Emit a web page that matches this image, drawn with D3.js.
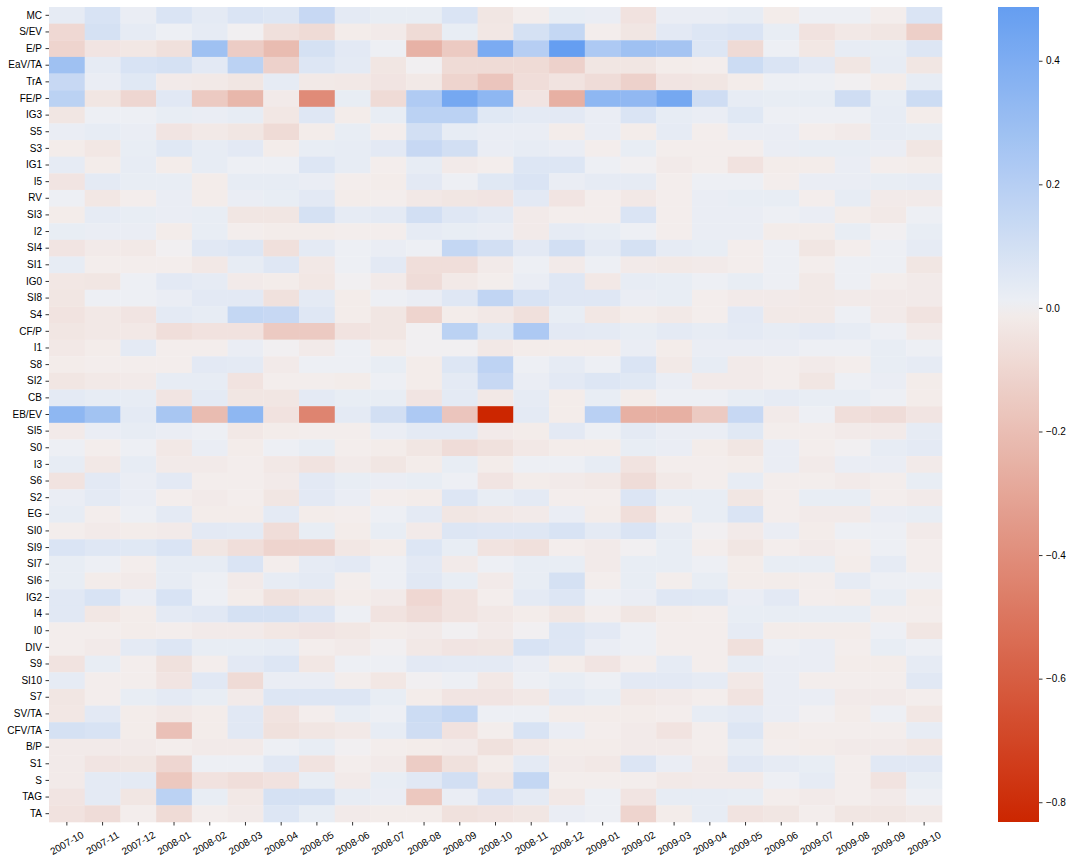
<!DOCTYPE html>
<html>
<head>
<meta charset="utf-8">
<script src="https://cdn.jsdelivr.net/npm/d3@7"></script>
<style>
  body { margin: 0; background: #fff; }
  svg { display: block; font-family: "DejaVu Sans", sans-serif; }
  .tick text { font-size: 10px; fill: #000; }
  .tick line { stroke: #000; stroke-width: 0.8; }
</style>
</head>
<body>
<svg id="chart" width="1077" height="866"></svg>
<script>
// --- data: columns (months), rows (factors), one row of values per factor ---
const months = ["2007-10","2007-11","2007-12","2008-01","2008-02","2008-03","2008-04","2008-05","2008-06",
  "2008-07","2008-08","2008-09","2008-10","2008-11","2008-12","2009-01","2009-02",
  "2009-03","2009-04","2009-05","2009-06","2009-07","2009-08","2009-09","2009-10"];

const factors = ["MC","S/EV","E/P","EaV/TA","TrA","FE/P","IG3","S5","S3","IG1","I5","RV","SI3","I2","SI4","SI1","IG0",
  "SI8","S4","CF/P","I1","S8","SI2","CB","EB/EV","SI5","S0","I3","S6","S2","EG","SI0","SI9",
  "SI7","SI6","IG2","I4","I0","DIV","S9","SI10","S7","SV/TA","CFV/TA","B/P","S1","S","TAG","TA"];

const corr = [
  [0.03,0.08,0.015,0.07,0.035,0.07,0.06,0.14,0.035, 0.02,0.02,0.07,-0.035,-0.005,0.02,0.015,-0.05, 0.015,0.015,0.025,-0.01,0.005,0.005,-0.005,0.07],
  [-0.09,0.09,0.03,0.005,0.03,0,-0.06,-0.08,-0.01, -0.015,-0.08,0.02,-0.03,0.09,0.15,-0.005,-0.035, 0.04,0.06,0.07,0.02,-0.05,-0.025,-0.035,-0.13],
  [-0.11,-0.04,-0.03,-0.06,0.28,-0.14,-0.21,0.09,0.04, 0.005,-0.25,-0.15,0.41,0.2,0.487,0.23,0.28, 0.26,0.06,-0.085,0.005,-0.03,0.025,0.02,0.06],
  [0.28,0.03,0.08,0.09,0.04,0.18,-0.12,0.06,0.035, -0.035,0,-0.08,-0.08,-0.08,-0.12,-0.035,-0.035, -0.01,-0.005,0.12,0.07,0.04,-0.035,0.025,-0.035],
  [0.14,0.015,0.05,-0.015,-0.02,-0.035,0.03,-0.02,-0.025, -0.04,-0.02,-0.11,-0.17,-0.07,-0.045,-0.075,-0.12, -0.04,-0.035,-0.01,0.005,0.005,0,-0.01,0.025],
  [0.18,-0.035,-0.1,0.045,-0.15,-0.23,-0.015,-0.41,0.02, -0.08,0.22,0.43,0.34,-0.04,-0.26,0.34,0.33, 0.43,0.11,0.025,0.02,0.02,0.11,0.02,0.12],
  [-0.035,0.005,0.005,0.02,0.015,0.025,-0.03,0.055,-0.01, 0.02,0.18,0.18,0.05,0.035,0.04,0.015,0.07, 0.025,0.015,0.05,0.005,0.005,0.005,0.025,-0.01],
  [0.015,0.025,0.015,-0.04,-0.02,-0.035,-0.08,-0.01,0.02, -0.005,0.1,0.025,0.015,0.015,-0.01,0.015,-0.01, 0.03,-0.005,0.015,0.015,-0.005,-0.015,0.025,0.02],
  [-0.01,-0.03,0.02,0.05,0.025,0.04,-0.01,0.02,0.025, 0.04,0.14,0.1,0.015,0.025,0.015,-0.005,0.02, -0.005,-0.005,-0.005,0.015,0.02,0.02,0.015,-0.035],
  [0.03,-0.01,0.025,-0.01,0.025,0.005,0.005,0.06,0.025, -0.005,0.025,-0.015,-0.005,0.06,0.06,0.005,0, -0.015,-0.005,-0.05,-0.01,-0.01,0.015,-0.005,-0.01],
  [-0.04,0.035,0.02,0.02,-0.01,0.025,0.025,0.015,-0.005, -0.01,0.04,0.005,0.05,0.07,0.015,0.03,0.03, -0.005,0.005,0.005,-0.005,0.015,0.015,0.02,0.025],
  [0.005,-0.03,-0.005,0.015,-0.01,0.015,0.02,0.04,-0.01, -0.005,-0.025,-0.035,-0.04,0.04,-0.04,-0.005,-0.025, -0.005,0.015,0.02,0.02,-0.005,0.025,-0.015,-0.015],
  [-0.01,0.03,0.02,0.015,0.02,-0.035,-0.035,0.09,0.03, 0.035,0.1,0.055,0.035,-0.015,-0.005,-0.005,0.07, -0.005,0.015,0.015,0.005,0.015,-0.01,-0.02,0.005],
  [0.02,0.015,0.015,-0.01,0.02,-0.005,-0.01,-0.01,-0.005, -0.005,0.03,0.02,0.015,-0.015,0.03,0.02,0.005, -0.005,0.015,0.015,-0.01,-0.01,0.02,0,0.02],
  [-0.04,-0.015,-0.02,0,0.045,0.06,-0.06,0.035,0.005, 0.015,0.005,0.15,0.1,0.04,0.1,0.035,0.09, 0.03,0.02,-0.005,0.005,-0.035,-0.005,0.005,0.03],
  [0.025,-0.005,-0.005,-0.005,-0.025,0.025,0.055,-0.025,0.005, 0.04,-0.065,-0.065,-0.015,0.005,-0.015,0.005,-0.015, -0.02,-0.015,-0.005,0.005,-0.005,0.005,0.005,-0.035],
  [-0.03,-0.035,0.005,0.04,0.03,-0.015,-0.01,-0.03,0, -0.015,-0.075,-0.02,-0.005,0.015,0.055,-0.025,0.025, 0.02,0.005,0.02,0.005,-0.02,0.005,-0.005,-0.015],
  [-0.035,0.005,0.005,0.015,0.04,0.04,-0.055,0.035,-0.01, 0.005,0.015,0.055,0.16,0.08,0.055,0.055,0.015, 0.02,-0.005,-0.015,-0.015,-0.02,-0.015,-0.015,-0.015],
  [-0.045,-0.025,-0.04,0.035,0.025,0.15,0.14,0.055,-0.01, -0.035,-0.11,-0.01,-0.025,-0.06,0.02,-0.03,-0.01, -0.02,-0.005,0.04,-0.02,-0.02,0.005,-0.015,-0.045],
  [-0.035,-0.025,-0.025,-0.065,-0.05,-0.05,-0.15,-0.15,-0.045, -0.035,0,0.18,0.05,0.23,0.04,0.035,0.02, 0.035,0.025,0.035,0.025,0.035,0.025,0.005,-0.015],
  [-0.025,-0.01,0.035,-0.005,-0.005,0.015,0,-0.015,0.005, -0.01,0,0,-0.025,-0.01,-0.01,-0.01,0.015, -0.01,0.015,0.015,0.015,0.005,0.005,0.02,0.005],
  [-0.01,-0.005,-0.005,-0.005,0.04,0.035,-0.015,0.005,0.005, 0.02,-0.01,0.06,0.17,0.005,0.03,0.005,0.07, -0.02,0.025,-0.015,-0.005,-0.015,-0.005,0.02,0.03],
  [-0.035,-0.02,-0.015,0.025,0.025,-0.045,-0.005,-0.005,-0.01, 0.005,-0.01,0.035,0.14,0.015,0.04,0.06,0.05, 0.015,-0.015,-0.015,-0.005,-0.035,0.005,0.015,-0.01],
  [0.035,0.025,0.025,-0.04,0.035,-0.035,-0.035,0.035,0.02, 0.02,-0.04,0.035,-0.025,0.03,-0.01,0.02,-0.01, 0.005,0.005,0.02,0.03,0.02,0.02,0.005,-0.01],
  [0.34,0.27,0.035,0.25,-0.21,0.34,-0.05,-0.44,0.035, 0.1,0.23,-0.17,-0.832,0.035,-0.01,0.19,-0.26, -0.26,-0.15,0.14,-0.015,0.005,-0.065,-0.075,-0.04],
  [-0.015,0.015,0.025,0.015,0.005,-0.025,-0.01,-0.005,-0.005, 0.015,0.035,0.035,-0.015,-0.01,0.04,0.005,0.035, 0.015,0.015,0.05,-0.005,-0.005,-0.015,-0.015,0.03],
  [0.005,-0.005,0.005,-0.025,0.015,-0.01,0.005,0.02,-0.005, -0.01,-0.035,-0.075,-0.055,-0.025,-0.01,-0.01,0.02, 0.015,-0.01,-0.035,0.015,-0.005,0,0.025,0.035],
  [0.025,-0.025,0.025,-0.015,-0.015,-0.005,-0.025,-0.045,-0.015, -0.035,-0.01,0.02,-0.01,0.005,0.005,0.025,-0.045, -0.005,-0.005,-0.01,0.015,-0.015,0.015,0.015,-0.015],
  [-0.045,0.04,0.015,0.04,-0.005,-0.005,-0.015,0.04,0.02, 0.015,0.02,0.005,-0.04,-0.01,-0.015,-0.025,-0.075, -0.02,-0.005,0.025,-0.005,-0.005,-0.015,-0.005,0.02],
  [0.015,0.035,0.015,-0.005,-0.015,-0.005,-0.035,0.04,0.015, -0.005,-0.01,0.06,0.02,0.035,-0.005,-0.005,0.065, 0.02,0.02,-0.035,-0.005,0.02,0.02,-0.005,-0.015],
  [0.025,-0.005,0.005,0.035,-0.01,-0.01,0.035,-0.01,-0.005, 0.005,0.035,-0.035,-0.025,-0.015,0.015,-0.01,-0.065, -0.005,0.02,0.07,-0.005,-0.015,-0.015,0.015,0.02],
  [-0.005,-0.015,-0.01,-0.015,0.04,0.035,-0.07,0.02,-0.01, 0.02,-0.015,0.06,0.055,0.055,0.08,0.035,0.07, 0.025,0,-0.015,0.015,-0.01,0.005,0.005,-0.015],
  [0.07,0.055,0.05,0.07,-0.035,-0.065,-0.11,-0.11,-0.03, -0.01,0.06,0.02,-0.045,-0.06,-0.005,-0.015,0, 0.02,-0.005,-0.035,-0.005,-0.015,-0.005,0.005,-0.005],
  [0.02,0.005,-0.005,0.025,0.025,0.07,-0.005,0.03,0.04, 0.005,0.04,-0.015,0.005,0.02,0.02,-0.015,0.02, 0.02,0.005,-0.01,0.02,0.02,-0.01,0.03,-0.005],
  [0.02,-0.01,-0.015,0.025,0.005,-0.015,0.025,0.035,-0.005, 0.005,0.045,0.02,-0.015,0.02,0.09,-0.005,0.02, -0.005,0.02,-0.01,-0.01,-0.005,0.03,0.005,0.005],
  [0.045,0.08,0.015,0.08,0.005,-0.01,-0.055,-0.035,-0.01, -0.015,-0.095,-0.045,-0.005,0.035,0.06,0.005,0.015, 0.055,0.05,0.015,0.04,-0.005,-0.01,0.02,-0.01],
  [0.045,-0.03,-0.01,0.035,0.045,0.09,0.09,0.065,0.005, -0.045,-0.075,-0.045,-0.025,-0.01,-0.035,-0.005,-0.035, -0.01,-0.005,0.02,0.02,0.02,0.02,-0.005,-0.005],
  [-0.005,-0.005,-0.01,-0.005,-0.015,-0.015,-0.03,-0.04,-0.03, -0.01,-0.015,0,-0.015,0,0.06,0.04,0.005, -0.005,-0.005,0.03,-0.01,-0.01,-0.01,0.005,-0.035],
  [-0.005,-0.015,0.035,0.06,0.02,0.02,0.025,-0.005,-0.015, 0,-0.025,-0.04,-0.035,0.08,0.06,0.015,0.005, -0.005,-0.005,-0.06,0.005,0.015,-0.005,0.02,0.005],
  [-0.045,0.02,-0.005,-0.055,-0.005,0.04,0.06,-0.03,0.005, 0.005,0.04,0.035,0.035,0.015,-0.01,-0.04,-0.005, 0.03,-0.005,0.025,0.015,0.015,-0.01,-0.01,0.03],
  [0.03,-0.005,-0.005,-0.04,0.045,-0.08,0.015,0.015,-0.005, -0.03,0,0.005,-0.025,0.005,0.02,0.005,0.04, 0.04,0.03,-0.025,0.015,-0.005,-0.005,-0.005,0.045],
  [-0.035,-0.005,0.02,0.035,0.02,-0.015,0.06,0.06,0.06, 0.02,-0.01,-0.04,-0.04,-0.025,0.035,0.02,-0.025, -0.015,-0.005,-0.045,0.015,0.015,-0.015,-0.015,-0.005],
  [-0.03,0.04,-0.01,-0.025,-0.01,0.045,-0.045,-0.005,0.02, 0.005,0.12,0.15,0.005,0.005,-0.01,-0.01,-0.01, -0.005,0.025,0.035,0.015,0,-0.01,0.005,-0.03],
  [0.09,0.08,-0.01,-0.19,-0.01,0.045,-0.055,-0.035,-0.02, 0.025,0.11,-0.05,-0.005,0.08,0.015,-0.005,-0.015, -0.045,-0.005,0.06,-0.01,-0.005,-0.005,-0.005,0.025],
  [-0.015,-0.015,-0.015,-0.005,-0.015,-0.015,0.005,0.02,0, -0.005,-0.01,-0.015,-0.055,-0.025,-0.01,-0.01,-0.015, -0.015,-0.005,0.025,-0.005,-0.01,-0.015,-0.015,-0.03],
  [-0.015,-0.04,-0.035,-0.1,0.005,0.005,0.045,-0.045,-0.005, -0.015,-0.14,-0.055,-0.01,0.035,-0.015,-0.025,0.065, 0.015,-0.015,0.045,0.03,0.02,-0.005,0.045,0.045],
  [-0.015,0.035,0.035,-0.16,-0.05,-0.065,-0.05,0.02,-0.015, 0.02,0.045,0.1,-0.035,0.15,-0.005,-0.005,-0.005, -0.02,-0.015,-0.015,0.005,0.03,-0.005,-0.045,0.02],
  [-0.04,0.035,-0.035,0.18,0.02,-0.025,0.09,0.09,0.025, 0.015,-0.16,0.015,0.075,0.035,-0.025,0.005,-0.04, 0.025,0.025,0.02,-0.005,-0.015,-0.005,-0.015,0.005],
  [-0.05,-0.075,-0.005,-0.08,-0.005,-0.015,0.06,0.02,-0.015, -0.01,-0.01,-0.055,-0.045,-0.035,0.015,0.005,-0.11, -0.01,0.025,-0.045,-0.035,-0.005,-0.035,-0.035,-0.02]
];

const cbarTicks = [0.4, 0.2, 0.0, -0.2, -0.4, -0.6, -0.8];

// --- layout ---
const svg = d3.select("#chart");
const plot = { left: 49, right: 942, top: 7, bottom: 822 };
const cbar = { left: 998, right: 1039 };

const x = d3.scaleBand().domain(months).range([plot.left, plot.right]);
const y = d3.scaleBand().domain(factors).range([plot.top, plot.bottom]);

// diverging colormap centred on 0 (seaborn style: range symmetric, cut to data)
const allVals = corr.flat();
const vmin = d3.min(allVals), vmax = d3.max(allVals);
const vr = Math.max(-vmin, vmax);
const color = d3.scaleLinear()
  .domain([-vr, -1e-6, 1e-6, vr])
  .range(["#cc2600", "#f3eeed", "#eef0f4", "#0464ef"])
  .interpolate(d3.interpolateRgb);

// cells
const cells = [];
corr.forEach((row, i) => row.forEach((v, j) => cells.push({ f: factors[i], m: months[j], v })));

svg.append("g")
  .selectAll("rect")
  .data(cells)
  .join("rect")
  .attr("x", (d) => x(d.m))
  .attr("y", (d) => y(d.f))
  .attr("width", x.bandwidth() + 0.3)
  .attr("height", y.bandwidth() + 0.3)
  .attr("fill", (d) => color(d.v));

// y axis
svg.append("g")
  .attr("transform", `translate(${plot.left},0)`)
  .call(d3.axisLeft(y).tickSize(3.5).tickPadding(3.5))
  .call((g) => g.select(".domain").remove());

// x axis with rotated labels
svg.append("g")
  .attr("transform", `translate(0,${plot.bottom})`)
  .call(d3.axisBottom(x).tickSize(3.5))
  .call((g) => g.select(".domain").remove())
  .call((g) => g.selectAll(".tick text")
    .attr("y", 0)
    .attr("dy", null)
    .attr("text-anchor", "middle")
    .attr("dominant-baseline", "central")
    .attr("transform", "translate(0,21) rotate(-30)"));

// colorbar
const cy = d3.scaleLinear().domain([vmin, vmax]).range([plot.bottom, plot.top]);
const grad = svg.append("defs").append("linearGradient")
  .attr("id", "cbar-grad")
  .attr("x1", 0).attr("y1", 1).attr("x2", 0).attr("y2", 0);
d3.range(0, 1.0001, 0.02).forEach((t) => {
  grad.append("stop")
    .attr("offset", t)
    .attr("stop-color", color(vmin + t * (vmax - vmin)));
});
svg.append("rect")
  .attr("x", cbar.left)
  .attr("y", plot.top)
  .attr("width", cbar.right - cbar.left)
  .attr("height", plot.bottom - plot.top)
  .attr("fill", "url(#cbar-grad)");

svg.append("g")
  .attr("transform", `translate(${cbar.right},0)`)
  .call(d3.axisRight(cy).tickValues(cbarTicks).tickFormat(d3.format(".1f")).tickSize(3.5).tickPadding(3.5))
  .call((g) => g.select(".domain").remove());
</script>
</body>
</html>
